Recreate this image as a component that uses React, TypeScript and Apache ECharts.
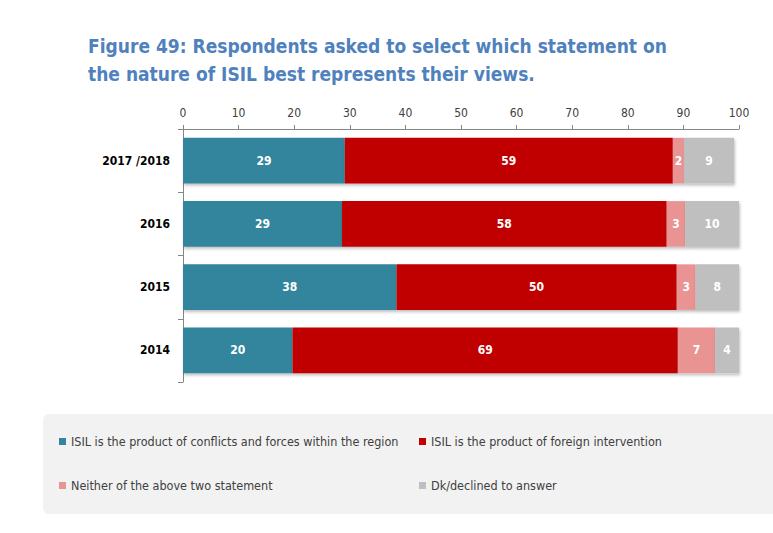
import React, { useEffect, useRef } from "react";
import * as echarts from "echarts";

const categories = ["2017 /2018", "2016", "2015", "2014"];
const seriesNames = [
  "ISIL is the product of conflicts and forces within the region",
  "ISIL is the product of foreign intervention",
  "Neither of the above two statement",
  "Dk/declined to answer",
];
const withinRegion = [29.1, 28.6, 38.4, 19.7];
const foreignIntervention = [59.0, 58.4, 50.4, 69.3];
const neither = [2.0, 3.3, 3.4, 6.7];
const declined = [9.0, 9.7, 7.8, 4.3];
const xTicks = [0, 10, 20, 30, 40, 50, 60, 70, 80, 90, 100];
const colors = ["#31859C", "#C00000", "#E99393", "#BFBFBF"];

const FONT = "'Liberation Sans Narrow', 'DejaVu Sans Condensed', 'Noto Sans', sans-serif";

export default function App() {
  const ref = useRef<HTMLDivElement>(null);
  useEffect(() => {
    document.body.style.margin = "0";
    if (!ref.current) return;
    const chart = echarts.init(ref.current, null, { renderer: "svg" });
    const values = [withinRegion, foreignIntervention, neither, declined];
    const legendPos = [
      { left: 59, top: 435 },
      { left: 419, top: 435 },
      { left: 59, top: 479 },
      { left: 419, top: 479 },
    ];
    chart.setOption({
      animation: false,
      textStyle: { fontFamily: FONT },
      title: {
        text: "Figure 49: Respondents asked to select which statement on\nthe nature of ISIL best represents their views.",
        left: 88,
        top: 32,
        padding: 0,
        textStyle: {
          fontFamily: FONT,
          fontSize: 19,
          fontWeight: "bold",
          color: "#4F81BD",
          lineHeight: 28,
        },
      },
      graphic: [
        {
          type: "rect",
          z: -10,
          shape: { x: 43, y: 414, width: 760, height: 100, r: 6 },
          style: { fill: "#F2F2F2" },
        },
      ],
      legend: seriesNames.map((n, i) => ({
        data: [n],
        left: legendPos[i].left,
        top: legendPos[i].top,
        icon: "rect",
        itemWidth: 7,
        itemHeight: 7,
        padding: 0,
        selectedMode: false,
        textStyle: { fontFamily: FONT, fontSize: 12.5, color: "#404040" },
      })),
      grid: { left: 183, right: 34, top: 129, bottom: 151 },
      xAxis: {
        type: "value",
        position: "top",
        min: 0,
        max: 100,
        interval: 10,
        splitLine: { show: false },
        axisLine: { show: true, lineStyle: { color: "#868686" } },
        axisTick: { show: true, length: 4, lineStyle: { color: "#868686" } },
        axisLabel: {
          fontFamily: FONT,
          fontSize: 12,
          color: "#404040",
          margin: 10,
          formatter: (v: number) => (xTicks.includes(v) ? String(v) : ""),
        },
      },
      yAxis: {
        type: "category",
        data: categories,
        inverse: true,
        axisLine: { show: true, lineStyle: { color: "#868686" } },
        axisTick: { show: true, length: 5, lineStyle: { color: "#868686" } },
        axisLabel: {
          fontFamily: FONT,
          fontSize: 12,
          fontWeight: "bold",
          color: "#000000",
          margin: 13,
        },
      },
      series: seriesNames.map((n, i) => ({
        name: n,
        type: "bar",
        stack: "total",
        barWidth: "72%",
        data: values[i],
        itemStyle: {
          color: colors[i],
          shadowColor: "rgba(0,0,0,0.25)",
          shadowBlur: 3,
          shadowOffsetX: 1,
          shadowOffsetY: 2,
        },
        label: {
          show: true,
          position: "inside",
          color: "#FFFFFF",
          fontFamily: FONT,
          fontSize: 12,
          fontWeight: "bold",
          formatter: (p: any) => String(Math.round(p.value)),
        },
      })),
    });
    return () => chart.dispose();
  }, []);
  return <div ref={ref} style={{ width: 773, height: 533 }} />;
}
